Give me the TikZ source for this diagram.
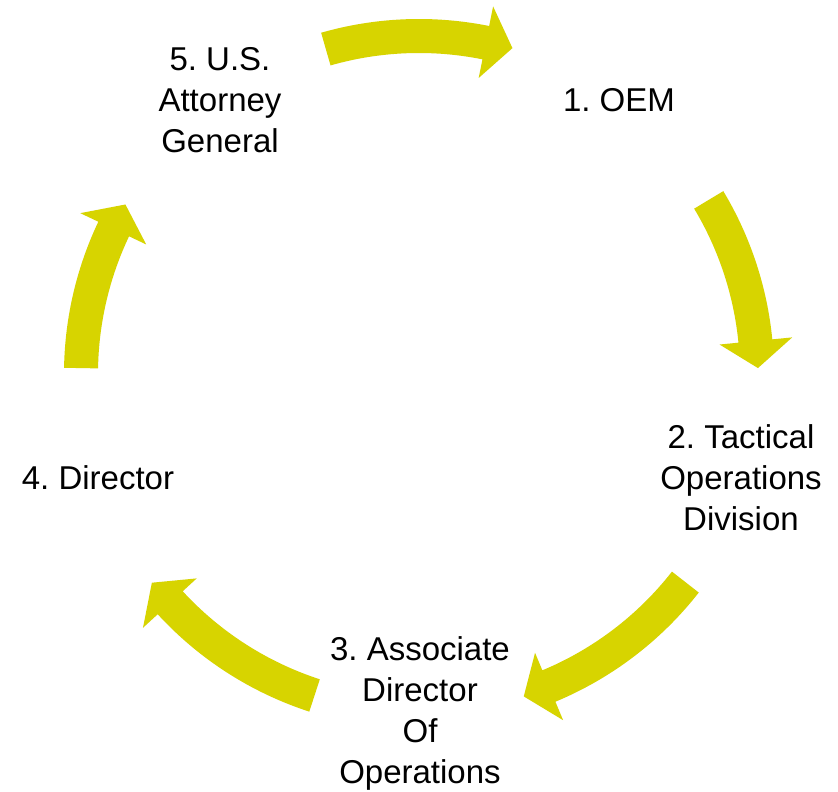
\documentclass[tikz,border=0pt]{standalone}
\usepackage{fontspec}
\setmainfont{Liberation Sans}
\frenchspacing
\definecolor{arrowyellow}{RGB}{215,212,0}
\newcommand\cycarrow[2]{% #1 tail angle, #2 tip angle (clockwise, tip < tail)
  \pgfmathsetmacro\hb{#2+4.6}%
  \fill[arrowyellow] (#1:355pt) arc[start angle=#1, end angle=\hb, radius=355pt]
    -- (\hb:375pt) -- (#2:339pt) -- (\hb:302pt) -- (\hb:321pt)
    arc[start angle=\hb, end angle=#1, radius=321pt] -- cycle;
}
\tikzset{
  lbl/.style={align=center, inner sep=0pt, font=\fontsize{33}{41}\selectfont, text=black}
}
\begin{document}
\begin{tikzpicture}[x=1pt,y=1pt]
\useasboundingbox (0,0) rectangle (838,792);
\fill[white] (0,0) rectangle (838,792);
\begin{scope}[shift={(419,418)}]
  \cycarrow{106}{74}
  \cycarrow{31}{1}
  \cycarrow{-38}{-72}
  \cycarrow{-108}{-142}
  \cycarrow{179}{150}
\end{scope}
\node[lbl] (n1) at (619,692) {1. OEM};
\node[lbl] (n2) at (741,314) {2. Tactical\\Operations\\Division};
\node[lbl] (n3) at (420,79) {3. Associate\\Director\\Of\\Operations};
\node[lbl] (n4) at (98,314) {4. Director};
\node[lbl] (n5) at (220,692) {5. U.S.\\Attorney\\General};
\end{tikzpicture}
\end{document}
